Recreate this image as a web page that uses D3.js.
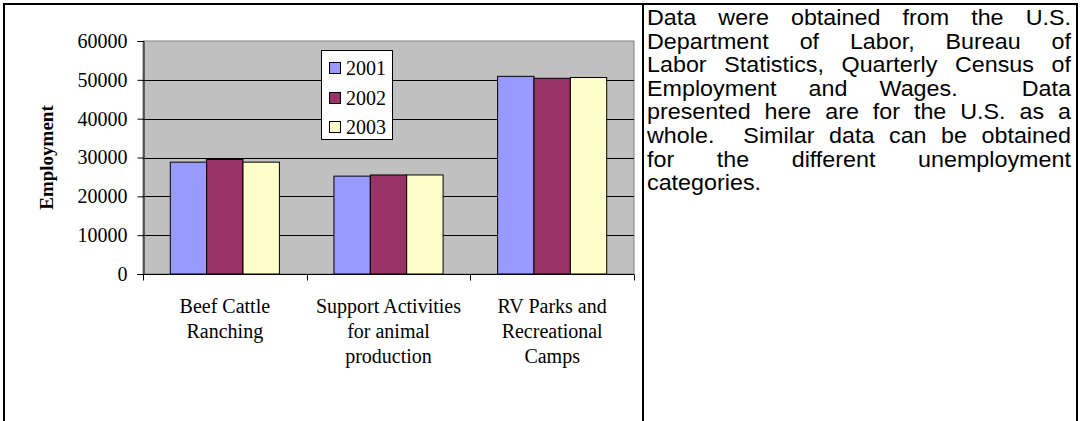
<!DOCTYPE html>
<html>
<head>
<meta charset="utf-8">
<script src="https://cdn.jsdelivr.net/npm/d3@7"></script>
<style>
  html, body { margin: 0; padding: 0; background: #fff; }
  svg { display: block; }
</style>
</head>
<body>
<svg id="chart" width="1080" height="421"></svg>
<script>
// Employment by industry, 2001-2003
const categories = [
  ["Beef Cattle", "Ranching"],
  ["Support Activities", "for animal", "production"],
  ["RV Parks and", "Recreational", "Camps"]
];
const years = ["2001", "2002", "2003"];
const values2001 = [28800, 25200, 50900];
const values2002 = [29500, 25500, 50400];
const values2003 = [28800, 25500, 50600];
const yTicks = [0, 10000, 20000, 30000, 40000, 50000, 60000];
const yTitle = "Employment";
const noteLines = [
  "Data were obtained from the U.S.",
  "Department of Labor, Bureau of",
  "Labor Statistics, Quarterly Census of",
  "Employment and Wages.  Data",
  "presented here are for the U.S. as a",
  "whole.  Similar data can be obtained",
  "for the different unemployment",
  "categories."
];

const series = [values2001, values2002, values2003];
const colors = ["#9999FF", "#993366", "#FFFFCC"];
const serif = "'Liberation Serif', 'Times New Roman', serif";

const svg = d3.select("#chart");

// table cell borders
const frame = svg.append("g").attr("stroke", "#000").attr("stroke-width", 2);
frame.append("line").attr("x1", 3).attr("x2", 1078).attr("y1", 4).attr("y2", 4);
frame.append("line").attr("x1", 4).attr("x2", 4).attr("y1", 3).attr("y2", 421);
frame.append("line").attr("x1", 643).attr("x2", 643).attr("y1", 3).attr("y2", 421);
frame.append("line").attr("x1", 1077).attr("x2", 1077).attr("y1", 3).attr("y2", 421);

// plot area
const plot = { left: 143, right: 634, top: 41, bottom: 274 };

const x = d3.scaleBand()
  .domain(d3.range(categories.length))
  .range([plot.left, plot.right])
  .paddingInner(0).paddingOuter(0);

const y = d3.scaleLinear()
  .domain([0, 60000])
  .range([plot.bottom, plot.top]);

const barW = x.bandwidth() / 4.5;
const gap = (x.bandwidth() - 3 * barW) / 2;

svg.append("rect")
  .attr("x", plot.left).attr("y", plot.top)
  .attr("width", plot.right - plot.left).attr("height", plot.bottom - plot.top)
  .attr("fill", "#C0C0C0").attr("stroke", "#808080").attr("stroke-width", 1);

// gridlines
svg.append("g")
  .selectAll("line")
  .data(yTicks.filter(d => d > 0 && d < 60000))
  .join("line")
  .attr("x1", plot.left).attr("x2", plot.right)
  .attr("y1", d => Math.round(y(d)) + 0.5).attr("y2", d => Math.round(y(d)) + 0.5)
  .attr("stroke", "#000").attr("stroke-width", 1);

// bars
const barData = [];
series.forEach((vals, s) => vals.forEach((v, c) => barData.push({ s, c, v })));
svg.append("g")
  .selectAll("rect")
  .data(barData)
  .join("rect")
  .attr("x", d => x(d.c) + gap + d.s * barW)
  .attr("y", d => y(d.v))
  .attr("width", barW)
  .attr("height", d => y(0) - y(d.v))
  .attr("fill", d => colors[d.s])
  .attr("stroke", "#000").attr("stroke-width", 1);

// y axis
const yAxis = svg.append("g")
  .attr("transform", `translate(${plot.left + 0.5},0)`)
  .call(d3.axisLeft(y).tickValues(yTicks).tickSize(6).tickPadding(10).tickFormat(d3.format("d")));
yAxis.select(".domain").attr("stroke", "#000");
yAxis.selectAll(".tick line").attr("stroke", "#000");
yAxis.selectAll("text")
  .attr("font-family", serif)
  .attr("font-size", 20).attr("fill", "#000");

// x axis
const xAxis = svg.append("g")
  .attr("transform", `translate(0,${plot.bottom + 0.5})`);
xAxis.append("line")
  .attr("x1", plot.left - 6).attr("x2", plot.right)
  .attr("stroke", "#000");
xAxis.selectAll("line.tick")
  .data(d3.range(categories.length + 1))
  .join("line").attr("class", "tick")
  .attr("x1", d => Math.round(d < categories.length ? x(d) : plot.right) + 0.5)
  .attr("x2", d => Math.round(d < categories.length ? x(d) : plot.right) + 0.5)
  .attr("y1", 0).attr("y2", 6)
  .attr("stroke", "#000");

const catLabels = svg.append("g")
  .attr("font-family", serif)
  .attr("font-size", 20).attr("text-anchor", "middle").attr("fill", "#000");
categories.forEach((lines, c) => {
  const cx = x(c) + x.bandwidth() / 2;
  const t = catLabels.append("text").attr("x", cx).attr("y", 313);
  lines.forEach((ln, i) => {
    t.append("tspan").attr("x", cx).attr("dy", i === 0 ? 0 : 25).text(ln);
  });
});

// y axis title
svg.append("text")
  .attr("transform", `translate(53,${(plot.top + plot.bottom) / 2}) rotate(-90)`)
  .attr("text-anchor", "middle")
  .attr("font-family", serif)
  .attr("font-weight", "bold").attr("font-size", 19)
  .text(yTitle);

// legend
const legend = svg.append("g");
legend.append("rect")
  .attr("x", 321.5).attr("y", 50.5).attr("width", 71).attr("height", 89)
  .attr("fill", "#fff").attr("stroke", "#000").attr("stroke-width", 1);
years.forEach((yr, i) => {
  const cy = 68 + i * 29.5;
  legend.append("rect")
    .attr("x", 329.5).attr("y", Math.round(cy - 6) + 0.5).attr("width", 11).attr("height", 11)
    .attr("fill", colors[i]).attr("stroke", "#000");
  legend.append("text")
    .attr("x", 346).attr("y", cy + 7)
    .attr("font-family", serif)
    .attr("font-size", 20)
    .text(yr);
});

// justified note text
const note = svg.append("g")
  .attr("font-family", "'Liberation Sans', Arial, sans-serif")
  .attr("font-size", 22).attr("fill", "#000");
const noteLeft = 647, noteRight = 1071, noteTop = 25, noteLead = 23.6, stretch = 1.06;
const measure = s => {
  const t = note.append("text").text(s);
  const len = t.node().getComputedTextLength();
  t.remove();
  return len * stretch;
};
const spaceW = measure("a a") - measure("aa");
noteLines.forEach((ln, i) => {
  const yPos = noteTop + i * noteLead;
  const tokens = ln.split(" ");
  const last = i === noteLines.length - 1;
  const widths = tokens.map(w => (w ? measure(w) : 0));
  const spaceCount = tokens.length - 1;
  const used = d3.sum(widths);
  const gapW = last || spaceCount === 0 ? spaceW : (noteRight - noteLeft - used) / spaceCount;
  let cx = noteLeft;
  tokens.forEach((w, k) => {
    if (w) {
      note.append("text")
        .attr("transform", `translate(${cx},${yPos}) scale(${stretch},1)`)
        .text(w);
    }
    cx += widths[k] + gapW;
  });
});
</script>
</body>
</html>
